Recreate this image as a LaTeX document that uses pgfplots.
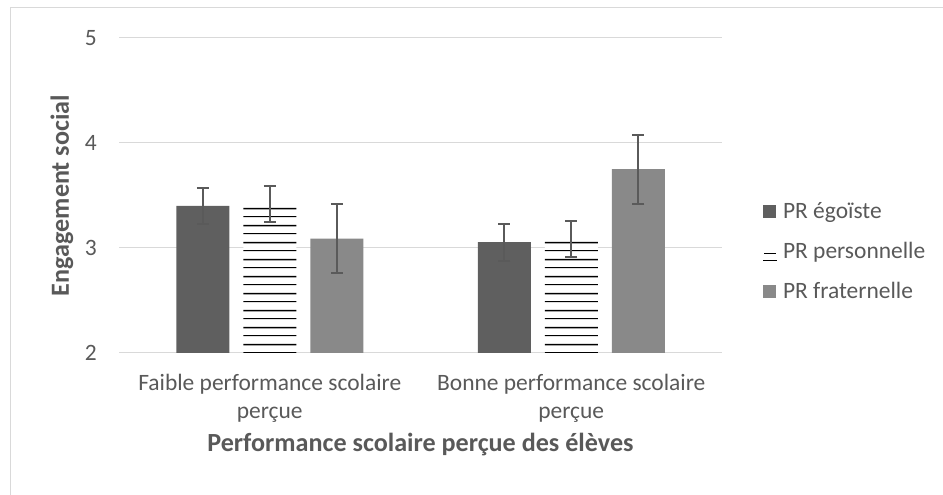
\documentclass[border=0pt]{standalone}
\usepackage{fontspec}
\setmainfont{Carlito}
\usepackage{pgfplots}
\pgfplotsset{compat=1.18}
\usetikzlibrary{patterns.meta}
\definecolor{darkbar}{HTML}{5F5F5F}
\definecolor{lightbar}{HTML}{898989}
\definecolor{errgray}{HTML}{5A5A5A}
\definecolor{txtgray}{HTML}{595959}
\definecolor{gridgray}{HTML}{D9D9D9}
\pgfdeclarepattern{
  name=exhlines,
  type=uncolored,
  bottom left={\pgfpoint{0pt}{0pt}},
  top right={\pgfpoint{12.8pt}{12.8pt}},
  tile size={\pgfpoint{12.8pt}{12.8pt}},
  code={
    \pgfpathrectangle{\pgfpoint{-0.5pt}{10.85pt}}{\pgfpoint{13.8pt}{1.15pt}}
    \pgfpathrectangle{\pgfpoint{-0.5pt}{4.6pt}}{\pgfpoint{13.8pt}{0.75pt}}
    \pgfusepath{fill}
  }
}
\pgfplotstableread{
x y err
0 3.40 0.17
1 3.055 0.175
}\egoiste
\pgfplotstableread{
x y err
0 3.42 0.17
1 3.085 0.17
}\personnelle
\pgfplotstableread{
x y err
0 3.09 0.33
1 3.75 0.33
}\fraternelle
\newcommand{\legtext}[1]{\raisebox{0pt}[11.25pt][0pt]{#1}}
\newcommand{\legbox}{\pgfpathrectangle{\pgfpoint{0pt}{-4.75pt}}{\pgfpoint{15pt}{9.75pt}}\pgfusepath{use as bounding box}}
\pgfplotsset{myerr/.style={
  error bars/.cd, y dir=both, y explicit,
  error bar style={draw=errgray, line width=1.5pt},
  error mark options={draw=errgray, line width=1.5pt, mark size=4.5pt, rotate=90}}}
\begin{document}
\begin{tikzpicture}[font=\fontsize{17.6}{21}\selectfont, text=txtgray]
\useasboundingbox (0,0) rectangle (707.25pt,371.25pt);
\draw[gridgray, line width=0.75pt] (7.5pt,0) -- (7.5pt,365.25pt) -- (707.25pt,365.25pt);
\begin{axis}[
  at={(89.25pt,106.5pt)}, anchor=south west,
  scale only axis, width=452.25pt, height=236.25pt,
  xmin=-0.5, xmax=1.5, ymin=2, ymax=5,
  ytick={2,3,4,5}, xtick={0,1},
  xticklabels={{Faible performance scolaire\\perçue},{Bonne performance scolaire\\perçue}},
  axis line style={draw=none}, tick style={draw=none}, major tick length=0pt,
  ymajorgrids, grid style={line width=0.75pt, color=gridgray},
  /pgf/number format/assume math mode=true,
  yticklabel style={anchor=east, inner sep=0pt, xshift=-16.5pt, text=txtgray},
  xticklabel style={anchor=north, inner sep=0pt, yshift=-15.4pt, align=center, text=txtgray},
  xlabel={Performance scolaire perçue des élèves},
  ylabel={Engagement social},
  xlabel style={at={(axis description cs:0.5,0)}, anchor=base, yshift=-74.25pt, font=\fontsize{19.6}{23}\selectfont\bfseries, text=txtgray},
  ylabel style={at={(axis description cs:-0.0830,0.5)}, anchor=base, font=\fontsize{19.6}{23}\selectfont\bfseries, text=txtgray},
  ybar=10.5pt, bar width=39.75pt,
  legend cell align=left,
  legend style={at={(axis description cs:1.068,0.476)}, anchor=north west, draw=none, fill=none,
    inner sep=0pt, outer sep=0pt, row sep=17.25pt,
    nodes={inner sep=0pt, text=txtgray}},
]
\addplot[fill=darkbar, draw=none, myerr,
  /pgfplots/legend image code/.code={\legbox \fill[darkbar] (0pt,-4.75pt) rectangle (9.75pt,5pt);}]
  table[x=x, y=y, y error=err] {\egoiste};
\addlegendentry{\legtext{PR égoïste}}
\addplot[fill=white, draw=none, postaction={pattern={exhlines}, pattern color=black}, myerr,
  /pgfplots/legend image code/.code={\legbox
    \pgfsetlinewidth{0.6pt}\pgfsetstrokecolor{black}
    \pgfpathmoveto{\pgfpoint{0.75pt}{-1.75pt}}\pgfpathlineto{\pgfpoint{9.4pt}{-1.75pt}}\pgfusepath{stroke}
    \pgfsetlinewidth{1.0pt}
    \pgfpathmoveto{\pgfpoint{0pt}{-6.6pt}}\pgfpathlineto{\pgfpoint{10.5pt}{-6.6pt}}\pgfusepath{stroke}}]
  table[x=x, y=y, y error=err] {\personnelle};
\addlegendentry{\legtext{PR personnelle}}
\addplot[fill=lightbar, draw=none, myerr,
  /pgfplots/legend image code/.code={\legbox \fill[lightbar] (0pt,-4.75pt) rectangle (9.75pt,5pt);}]
  table[x=x, y=y, y error=err] {\fraternelle};
\addlegendentry{\legtext{PR fraternelle}}
\end{axis}
\end{tikzpicture}
\end{document}
